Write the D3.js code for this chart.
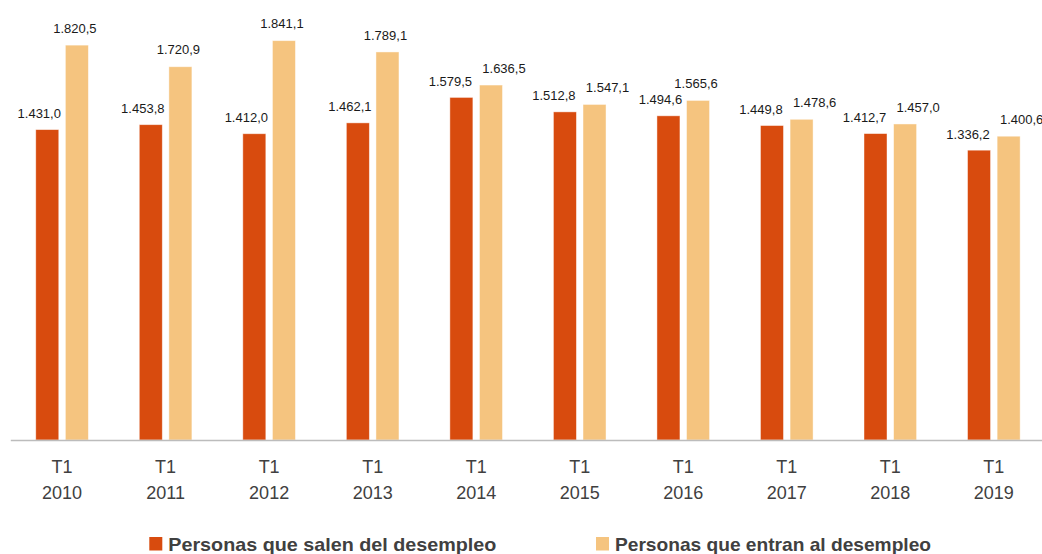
<!DOCTYPE html>
<html>
<head>
<meta charset="utf-8">
<script src="https://cdn.jsdelivr.net/npm/d3@7"></script>
<style>
  html, body { margin: 0; padding: 0; background: #fff; }
  svg { display: block; }
</style>
</head>
<body>
<svg id="chart" width="1042" height="554"></svg>
<script>
// ---- Data ----
const years = ["2010", "2011", "2012", "2013", "2014", "2015", "2016", "2017", "2018", "2019"];
const quarterLabel = "T1";
const salen = [1431.0, 1453.8, 1412.0, 1462.1, 1579.5, 1512.8, 1494.6, 1449.8, 1412.7, 1336.2];
const entran = [1820.5, 1720.9, 1841.1, 1789.1, 1636.5, 1547.1, 1565.6, 1478.6, 1457.0, 1400.6];
const seriesKeys = ["salen", "entran"];
const seriesNames = ["Personas que salen del desempleo", "Personas que entran al desempleo"];

// ---- Setup ----
const W = 1042, H = 554;
const colors = { salen: "#D84B0E", entran: "#F5C47F" };
const svg = d3.select("#chart");
const fmt = d3.formatLocale({ decimal: ",", thousands: ".", grouping: [3], currency: ["", "€"] }).format(",.1f");

const rows = years.map((yr, i) => ({ year: yr, salen: salen[i], entran: entran[i] }));

const x0 = d3.scaleBand().domain(years).range([10.3, 1045.6]).padding(0);
const x1 = d3.scaleBand().domain(seriesKeys).range([0, x0.bandwidth()])
  .paddingInner(0.223).paddingOuter(0.86);
const y = d3.scaleLinear().domain([0, 2000]).range([440, 6.2]);

// ---- Bars ----
const groups = svg.append("g").selectAll("g").data(rows).join("g")
  .attr("transform", d => `translate(${x0(d.year)},0)`);

groups.selectAll("rect").data(d => seriesKeys.map(k => ({ key: k, value: d[k] })))
  .join("rect")
  .attr("x", d => x1(d.key))
  .attr("y", d => y(d.value))
  .attr("width", x1.bandwidth())
  .attr("height", d => y(0) - y(d.value))
  .attr("fill", d => colors[d.key])
  .attr("stroke", "rgba(255,255,255,0.55)")
  .attr("stroke-width", 0.8);

// ---- Value labels (with simple collision avoidance) ----
const labelGap = 16;
groups.each(function (d) {
  const g = d3.select(this);
  const cyS = y(d.salen) - labelGap;
  const cyE = y(d.entran) - labelGap - 1;
  const collide = Math.abs(cyS - cyE) < 16;
  const dxS = collide ? -11 : -8;
  const dxE = collide ? 13 : -2;
  const items = [
    { key: "salen", v: d.salen, cx: x1("salen") + x1.bandwidth() / 2 + dxS, cy: cyS },
    { key: "entran", v: d.entran, cx: x1("entran") + x1.bandwidth() / 2 + dxE, cy: cyE }
  ];
  g.selectAll("text.val").data(items).join("text")
    .attr("class", "val")
    .attr("x", t => t.cx)
    .attr("y", t => t.cy + 4.6)
    .attr("text-anchor", "middle")
    .attr("font-family", "'Liberation Sans', Arial, sans-serif")
    .attr("font-size", 13)
    .attr("fill", "#1a1a1a")
    .text(t => fmt(t.v));
});

// ---- X axis ----
const axis = svg.append("g")
  .attr("transform", `translate(0,${y(0)})`)
  .call(d3.axisBottom(x0).tickSize(0).tickSizeOuter(0).tickPadding(0).tickFormat(() => ""));
axis.select(".domain").attr("stroke", "#bcbcbc").attr("stroke-width", 1.5);
axis.selectAll(".tick text").each(function (yr) {
  const t = d3.select(this)
    .attr("font-family", "'Liberation Sans', Arial, sans-serif")
    .attr("font-size", 18)
    .attr("fill", "#404040")
    .attr("dy", null)
    .attr("y", 0);
  t.append("tspan").attr("x", 0).attr("y", 33).text(quarterLabel);
  t.append("tspan").attr("x", 0).attr("y", 59).text(yr);
});

// ---- Legend ----
const legendItems = [
  { key: "salen", name: seriesNames[0], sx: 149.3, tx: 168.3, len: 328 },
  { key: "entran", name: seriesNames[1], sx: 596, tx: 615, len: 316 }
];
const lg = svg.append("g");
legendItems.forEach(it => {
  lg.append("rect").attr("x", it.sx).attr("y", 537).attr("width", 13).attr("height", 13.5)
    .attr("fill", colors[it.key]);
  lg.append("text").attr("x", it.tx).attr("y", 550.8)
    .attr("font-family", "'Liberation Sans', Arial, sans-serif")
    .attr("font-weight", "bold")
    .attr("font-size", 19)
    .attr("fill", "#404040")
    .attr("textLength", it.len)
    .attr("lengthAdjust", "spacingAndGlyphs")
    .text(it.name);
});
</script>
</body>
</html>
